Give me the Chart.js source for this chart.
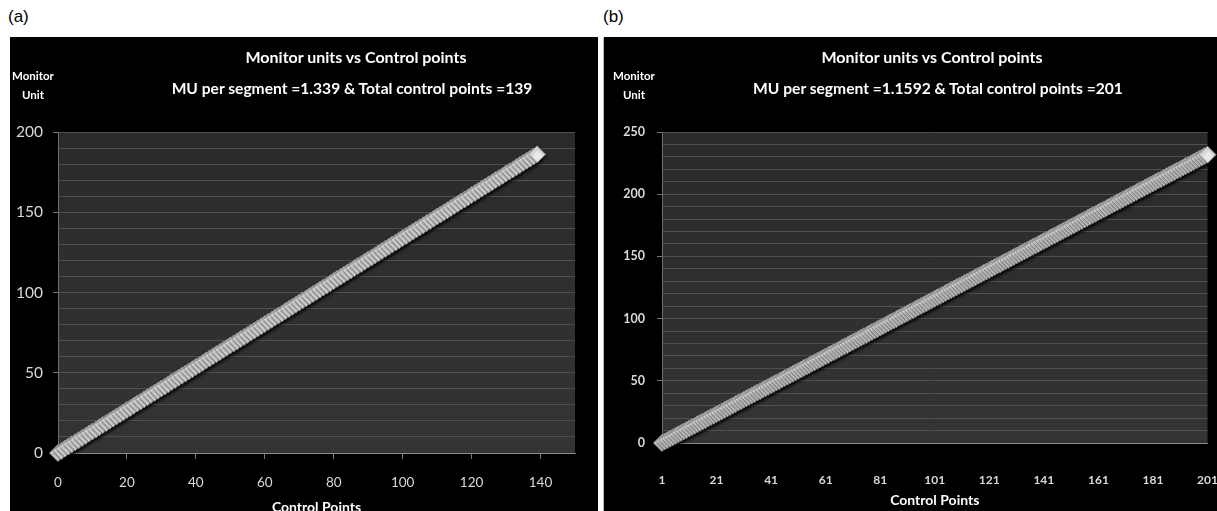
<!DOCTYPE html>
<html>
<head>
<meta charset="utf-8">
<script src="https://cdn.jsdelivr.net/npm/chart.js@4.4.1/dist/chart.umd.min.js"></script>
<style>
    body { margin: 0; width: 1217px; height: 511px; overflow: hidden; background: #fff; position: relative; font-family: Lato, sans-serif; }
    .tag { position: absolute; top: 7px; font: 17px "Liberation Sans", Arial, sans-serif; color: #000; }
    .panel { position: absolute; top: 37px; height: 474px; background: #000; overflow: hidden; }
    #panel-a { left: 10px; width: 588px; }
    #panel-b { left: 603px; width: 614px; box-shadow: inset 1px 0 0 #bbb; }
    .panel canvas { position: absolute; left: 0; top: 0; }
    .ttl { position: absolute; color: #fff; font-weight: bold; white-space: nowrap; transform: translateX(-50%); line-height: 20px; }
    .main { top: 10px; font-size: 16px; }
    .sub { top: 41px; font-size: 15.6px; }
    .ylab { position: absolute; color: #fff; font-weight: bold; font-size: 11.5px; line-height: 19px; text-align: center; transform: translateX(-50%); top: 29px; }
</style>
</head>
<body>

<div class="tag" style="left:8px">(a)</div>
<div class="tag" style="left:603px">(b)</div>

<div class="panel" id="panel-a">
    <canvas id="chart-a" width="588" height="474"></canvas>
    <div class="ttl main" style="left:346px">Monitor units vs Control points</div>
    <div class="ttl sub" style="left:342px">MU per segment =1.339 &amp; Total control points =139</div>
    <div class="ylab" style="left:23px">Monitor<br>Unit</div>
</div>

<div class="panel" id="panel-b">
    <canvas id="chart-b" width="614" height="474"></canvas>
    <div class="ttl main" style="left:329px">Monitor units vs Control points</div>
    <div class="ttl sub" style="left:335px">MU per segment =1.1592 &amp; Total control points =201</div>
    <div class="ylab" style="left:31px">Monitor<br>Unit</div>
</div>

<script>
// (a) monitor units at control points 0..139
var muA = [
    0, 1.3, 2.7, 4.0, 5.4, 6.7, 8.0, 9.4, 10.7, 12.1,
    13.4, 14.7, 16.1, 17.4, 18.7, 20.1, 21.4, 22.8, 24.1, 25.4,
    26.8, 28.1, 29.5, 30.8, 32.1, 33.5, 34.8, 36.2, 37.5, 38.8,
    40.2, 41.5, 42.8, 44.2, 45.5, 46.9, 48.2, 49.5, 50.9, 52.2,
    53.6, 54.9, 56.2, 57.6, 58.9, 60.3, 61.6, 62.9, 64.3, 65.6,
    67.0, 68.3, 69.6, 71.0, 72.3, 73.6, 75.0, 76.3, 77.7, 79.0,
    80.3, 81.7, 83.0, 84.4, 85.7, 87.0, 88.4, 89.7, 91.1, 92.4,
    93.7, 95.1, 96.4, 97.7, 99.1, 100.4, 101.8, 103.1, 104.4, 105.8,
    107.1, 108.5, 109.8, 111.1, 112.5, 113.8, 115.2, 116.5, 117.8, 119.2,
    120.5, 121.8, 123.2, 124.5, 125.9, 127.2, 128.5, 129.9, 131.2, 132.6,
    133.9, 135.2, 136.6, 137.9, 139.3, 140.6, 141.9, 143.3, 144.6, 146.0,
    147.3, 148.6, 150.0, 151.3, 152.6, 154.0, 155.3, 156.7, 158.0, 159.3,
    160.7, 162.0, 163.4, 164.7, 166.0, 167.4, 168.7, 170.1, 171.4, 172.7,
    174.1, 175.4, 176.7, 178.1, 179.4, 180.8, 182.1, 183.4, 184.8, 186.1
];

// (b) monitor units at control points 1..201
var muB = [
    0, 1.2, 2.3, 3.5, 4.6, 5.8, 7.0, 8.1, 9.3, 10.4,
    11.6, 12.8, 13.9, 15.1, 16.2, 17.4, 18.5, 19.7, 20.9, 22.0,
    23.2, 24.3, 25.5, 26.7, 27.8, 29.0, 30.1, 31.3, 32.5, 33.6,
    34.8, 35.9, 37.1, 38.3, 39.4, 40.6, 41.7, 42.9, 44.0, 45.2,
    46.4, 47.5, 48.7, 49.8, 51.0, 52.2, 53.3, 54.5, 55.6, 56.8,
    58.0, 59.1, 60.3, 61.4, 62.6, 63.8, 64.9, 66.1, 67.2, 68.4,
    69.6, 70.7, 71.9, 73.0, 74.2, 75.3, 76.5, 77.7, 78.8, 80.0,
    81.1, 82.3, 83.5, 84.6, 85.8, 86.9, 88.1, 89.3, 90.4, 91.6,
    92.7, 93.9, 95.1, 96.2, 97.4, 98.5, 99.7, 100.9, 102.0, 103.2,
    104.3, 105.5, 106.6, 107.8, 109.0, 110.1, 111.3, 112.4, 113.6, 114.8,
    115.9, 117.1, 118.2, 119.4, 120.6, 121.7, 122.9, 124.0, 125.2, 126.4,
    127.5, 128.7, 129.8, 131.0, 132.1, 133.3, 134.5, 135.6, 136.8, 137.9,
    139.1, 140.3, 141.4, 142.6, 143.7, 144.9, 146.1, 147.2, 148.4, 149.5,
    150.7, 151.9, 153.0, 154.2, 155.3, 156.5, 157.7, 158.8, 160.0, 161.1,
    162.3, 163.4, 164.6, 165.8, 166.9, 168.1, 169.2, 170.4, 171.6, 172.7,
    173.9, 175.0, 176.2, 177.4, 178.5, 179.7, 180.8, 182.0, 183.2, 184.3,
    185.5, 186.6, 187.8, 188.9, 190.1, 191.3, 192.4, 193.6, 194.7, 195.9,
    197.1, 198.2, 199.4, 200.5, 201.7, 202.9, 204.0, 205.2, 206.3, 207.5,
    208.7, 209.8, 211.0, 212.1, 213.3, 214.5, 215.6, 216.8, 217.9, 219.1,
    220.2, 221.4, 222.6, 223.7, 224.9, 226.0, 227.2, 228.4, 229.5, 230.7,
    231.8
];

var xTicksA = [0, 20, 40, 60, 80, 100, 120, 140];
var yTicksA = [0, 50, 100, 150, 200];
var yTicksB = [0, 50, 100, 150, 200, 250];
var labelEveryB = 20;   // category labels 1, 21, 41 ...
var gridStep = 10;      // minor horizontal gridlines

// control point numbers for (b) categories
var labelsB = muB.map(function (v, i) { return String(i + 1); });

Chart.defaults.font.family = 'Lato, sans-serif';
Chart.defaults.color = '#d8d8d8';

// dark plot area
var plotBg = {
    id: 'plotBg',
    beforeDraw: function (chart) {
        var a = chart.chartArea;
        var ctx = chart.ctx;
        var g = ctx.createLinearGradient(0, a.top, 0, a.bottom);
        g.addColorStop(0, '#2a2a2a');
        g.addColorStop(1, '#343434');
        ctx.fillStyle = g;
        ctx.fillRect(a.left, a.top, a.width, a.height);
    }
};

// soft shadow under the marker band
var bandShadow = {
    id: 'bandShadow',
    beforeDatasetsDraw: function (chart) {
        var ctx = chart.ctx;
        ctx.save();
        ctx.shadowColor = 'rgba(0,0,0,0.5)';
        ctx.shadowBlur = 3;
        ctx.shadowOffsetX = 1;
        ctx.shadowOffsetY = 2;
    },
    afterDatasetsDraw: function (chart) {
        chart.ctx.restore();
    }
};

function yGridTicks(max) {
    return function (axis) {
        var t = [];
        for (var v = 0; v <= max; v += gridStep) t.push({ value: v });
        axis.ticks = t;
    };
}

function bandDataset(data) {
    return {
        data: data,
        borderColor: '#cccccc',
        borderWidth: 3,
        pointStyle: 'rectRot',
        pointRadius: 8.5,
        pointBackgroundColor: '#eaeaea',
        pointBorderColor: '#8c8c8c',
        pointBorderWidth: 1,
        tension: 0,
        clip: false
    };
}

function yScale(max, majors, width, fontSize, bold, pad) {
    return {
        min: 0,
        max: max,
        afterBuildTicks: yGridTicks(max),
        afterFit: function (s) { s.width = width; },
        border: { color: '#6e6e6e' },
        grid: {
            color: function (c) { return c.tick && c.tick.value === 0 ? '#8a8a8a' : '#4f4f4f'; },
            tickColor: function (c) { return c.tick && majors.indexOf(c.tick.value) >= 0 ? '#777' : 'rgba(0,0,0,0)'; },
            tickLength: 5
        },
        ticks: {
            autoSkip: false,
            padding: pad,
            color: '#d8d8d8',
            font: { size: fontSize, weight: bold ? 'bold' : 'normal' },
            callback: function (v) { return majors.indexOf(v) >= 0 ? String(v) : ''; }
        }
    };
}

var chartA = new Chart(document.getElementById('chart-a').getContext('2d'), {
    type: 'line',
    data: {
        datasets: [bandDataset(muA.map(function (y, i) { return { x: i, y: y }; }))]
    },
    options: {
        responsive: false,
        animation: false,
        layout: { padding: { top: 95, right: 23, left: 0, bottom: 0 } },
        plugins: { legend: { display: false }, tooltip: { enabled: false } },
        scales: {
            x: {
                type: 'linear',
                min: 0,
                max: 150,
                afterBuildTicks: function (axis) { axis.ticks = xTicksA.map(function (v) { return { value: v }; }); },
                afterFit: function (s) { s.height = 58; s.paddingLeft = 0; s.paddingRight = 0; },
                border: { color: '#8a8a8a' },
                grid: { drawOnChartArea: false, tickLength: 6, color: '#7a7a7a' },
                ticks: { autoSkip: false, padding: 16, maxRotation: 0, color: '#d8d8d8', font: { size: 13.5 } },
                title: { display: true, text: 'Control Points', color: '#fff', font: { size: 14, weight: 'bold' }, padding: { top: 0, bottom: -5 } }
            },
            y: yScale(200, yTicksA, 48, 15.5, false, 10)
        }
    },
    plugins: [plotBg, bandShadow]
});

var chartB = new Chart(document.getElementById('chart-b').getContext('2d'), {
    type: 'line',
    data: {
        labels: labelsB,
        datasets: [bandDataset(muB)]
    },
    options: {
        responsive: false,
        animation: false,
        layout: { padding: { top: 95, right: 5, left: 0, bottom: 0 } },
        plugins: { legend: { display: false }, tooltip: { enabled: false } },
        scales: {
            x: {
                type: 'category',
                offset: false,
                afterFit: function (s) { s.height = 68; s.paddingLeft = 0; s.paddingRight = 0; },
                border: { color: '#8a8a8a' },
                grid: { display: false },
                ticks: {
                    autoSkip: false,
                    maxRotation: 0,
                    padding: 22,
                    color: '#d8d8d8',
                    font: { size: 12, weight: 'bold' },
                    callback: function (v, i) { return i % labelEveryB === 0 ? labelsB[i] : ''; }
                },
                title: { display: true, text: 'Control Points', color: '#fff', font: { size: 14, weight: 'bold' }, padding: { top: 0, bottom: 2 } }
            },
            y: yScale(250, yTicksB, 59, 12.5, true, 12)
        }
    },
    plugins: [plotBg, bandShadow]
});
</script>
</body>
</html>
